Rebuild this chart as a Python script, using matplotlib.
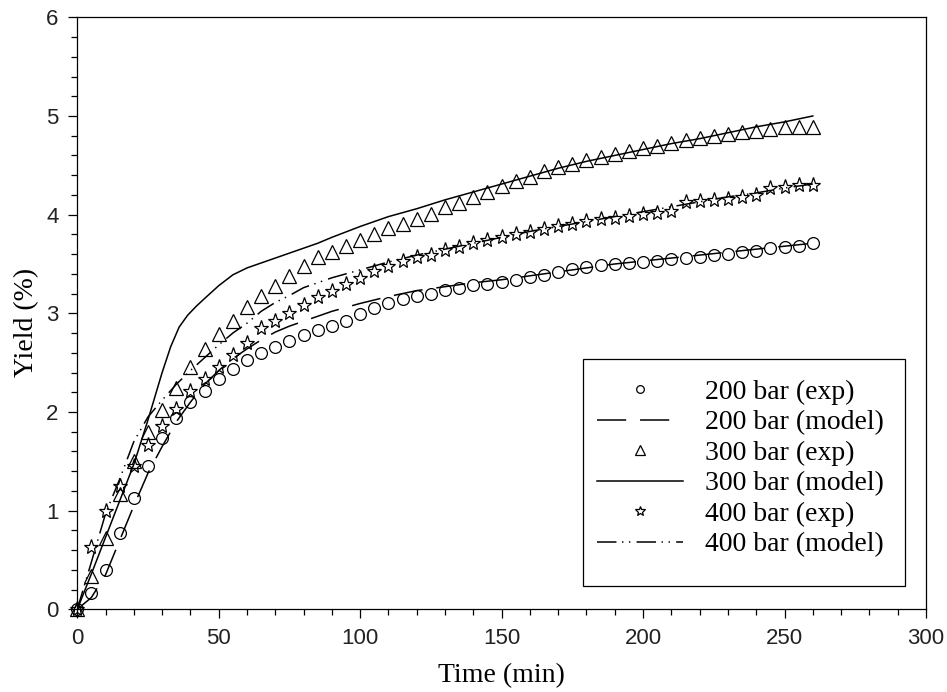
import numpy as np
import matplotlib
matplotlib.use("Agg")
import matplotlib.pyplot as plt
from matplotlib.patches import Rectangle

# Sampling times of the extraction runs (min)
time_exp = list(range(0, 265, 5))

# Measured yields (%)
yield_200_exp = [0.00, 0.17, 0.40, 0.77, 1.13, 1.45, 1.74, 1.94, 2.10, 2.21,
                 2.33, 2.44, 2.53, 2.60, 2.66, 2.72, 2.78, 2.83, 2.87, 2.92,
                 2.99, 3.05, 3.10, 3.15, 3.18, 3.20, 3.24, 3.26, 3.29, 3.30,
                 3.32, 3.34, 3.37, 3.39, 3.42, 3.45, 3.47, 3.49, 3.50, 3.51,
                 3.52, 3.53, 3.55, 3.56, 3.57, 3.59, 3.60, 3.62, 3.63, 3.66,
                 3.67, 3.68, 3.71]
yield_300_exp = [0.00, 0.34, 0.72, 1.17, 1.50, 1.80, 2.02, 2.24, 2.46, 2.64,
                 2.79, 2.92, 3.06, 3.18, 3.28, 3.38, 3.48, 3.57, 3.62, 3.68,
                 3.74, 3.80, 3.86, 3.91, 3.96, 4.01, 4.08, 4.12, 4.18, 4.23,
                 4.29, 4.34, 4.38, 4.44, 4.48, 4.51, 4.55, 4.58, 4.61, 4.64,
                 4.68, 4.70, 4.73, 4.76, 4.78, 4.80, 4.82, 4.84, 4.85, 4.87,
                 4.89, 4.89, 4.89]
yield_400_exp = [0.00, 0.63, 1.00, 1.25, 1.45, 1.67, 1.86, 2.03, 2.21, 2.33,
                 2.46, 2.58, 2.70, 2.85, 2.92, 3.00, 3.08, 3.17, 3.23, 3.30,
                 3.36, 3.43, 3.48, 3.53, 3.57, 3.59, 3.64, 3.67, 3.71, 3.74,
                 3.77, 3.80, 3.82, 3.85, 3.88, 3.91, 3.94, 3.96, 3.97, 3.99,
                 4.01, 4.02, 4.04, 4.13, 4.14, 4.15, 4.16, 4.18, 4.20, 4.27,
                 4.28, 4.30, 4.30]

# Model curves
time_model = [0, 5, 10, 15, 20, 25, 30, 35, 40, 45, 50, 55, 60, 65, 70, 75,
              80, 85, 90, 100, 110, 120, 130, 140, 150, 160, 170, 180, 190,
              200, 210, 220, 230, 240, 250, 260]
yield_200_model = [0.00, 0.12, 0.35, 0.70, 1.05, 1.38, 1.65, 1.90, 2.10, 2.28,
                   2.42, 2.54, 2.64, 2.73, 2.81, 2.87, 2.92, 2.97, 3.02, 3.10,
                   3.17, 3.23, 3.27, 3.31, 3.34, 3.38, 3.42, 3.46, 3.50, 3.53,
                   3.56, 3.59, 3.62, 3.65, 3.68, 3.71]
yield_400_model = [0.00, 0.48, 0.97, 1.32, 1.70, 1.95, 2.12, 2.28, 2.42, 2.55,
                   2.68, 2.80, 2.90, 3.02, 3.11, 3.18, 3.26, 3.31, 3.36, 3.44,
                   3.52, 3.59, 3.65, 3.71, 3.77, 3.83, 3.88, 3.93, 3.98, 4.03,
                   4.08, 4.13, 4.18, 4.22, 4.27, 4.31]

# The 300 bar model bends sharply, so it is tabulated more finely near the knee
time_model_300 = [0, 5, 10, 15, 20, 25, 30, 33, 36, 39, 42, 45, 50, 55, 60,
                  65, 70, 75, 80, 85, 90, 100, 110, 120, 130, 140, 150, 160,
                  170, 180, 190, 200, 210, 220, 230, 240, 250, 260]
yield_300_model = [0.00, 0.36, 0.73, 1.10, 1.47, 1.92, 2.40, 2.66, 2.86, 2.98,
                   3.07, 3.15, 3.28, 3.39, 3.46, 3.51, 3.56, 3.61, 3.66, 3.71,
                   3.77, 3.88, 3.98, 4.06, 4.15, 4.23, 4.31, 4.39, 4.47, 4.54,
                   4.60, 4.66, 4.72, 4.77, 4.83, 4.89, 4.94, 5.00]

x_ticks = [0, 50, 100, 150, 200, 250, 300]
y_ticks = [0, 1, 2, 3, 4, 5, 6]

plt.rcParams["lines.scale_dashes"] = False
serif = ["Liberation Serif", "DejaVu Serif"]
sans = ["Liberation Sans", "DejaVu Sans"]

fig = plt.figure(figsize=(9.47, 6.92), dpi=100)
ax = fig.add_axes([0.0816, 0.1195, 0.8962, 0.8555])

mk = dict(linestyle="none", markerfacecolor="none", markeredgecolor="black",
          markeredgewidth=0.9, clip_on=False, zorder=3)
ln = dict(color="black", linewidth=1.1, zorder=2)

ax.plot(time_exp, yield_200_exp, marker="o", markersize=8.5,
        label="200 bar (exp)", **mk)
ax.plot(time_model, yield_200_model, dashes=(21, 10),
        label="200 bar (model)", **ln)
ax.plot(time_exp, yield_300_exp, marker="^", markersize=10,
        label="300 bar (exp)", **mk)
ax.plot(time_model_300, yield_300_model, linestyle="-",
        label="300 bar (model)", **ln)
ax.plot(time_exp, yield_400_exp, marker="*", markersize=11,
        label="400 bar (exp)", **mk)
ax.plot(time_model, yield_400_model, dashes=(14, 4, 1, 4, 1, 4.5),
        label="400 bar (model)", **ln)

ax.set_xlim(0, 300)
ax.set_ylim(0, 6)
ax.set_xticks(x_ticks)
ax.set_yticks(y_ticks)
ax.set_xticks(np.arange(0, 301, 10), minor=True)
ax.set_yticks(np.arange(0, 6.01, 0.2), minor=True)
ax.tick_params(which="both", direction="out", top=False, right=False,
               width=0.9, colors="black")
ax.tick_params(which="major", length=6.5, pad=7, labelsize=16)
ax.tick_params(which="minor", length=4)
for lab in ax.get_xticklabels() + ax.get_yticklabels():
    lab.set_family(sans)
    lab.set_color("#222222")
for sp in ax.spines.values():
    sp.set_linewidth(0.9)

ax.set_xlabel("Time (min)", family=serif, fontsize=20, labelpad=10)
ax.set_ylabel("Yield (%)", family=serif, fontsize=20)
ax.yaxis.set_label_coords(-0.045, 0.485)

# Legend entries without their own frame; a plain box is drawn around them
leg = ax.legend(loc="upper right", bbox_to_anchor=(0.975, 0.423),
                borderaxespad=0, prop={"family": serif, "size": 20},
                frameon=False, markerscale=0.65, handlelength=3.1,
                handletextpad=0.8, labelspacing=0.18, borderpad=0.75)
leg.set_zorder(5)
ax.add_patch(Rectangle((0.5959, 0.0394), 0.3794, 0.3834,
                       transform=ax.transAxes, facecolor="white",
                       edgecolor="black", linewidth=0.9, zorder=4))

fig.savefig("out.png", dpi=100, facecolor="white")
